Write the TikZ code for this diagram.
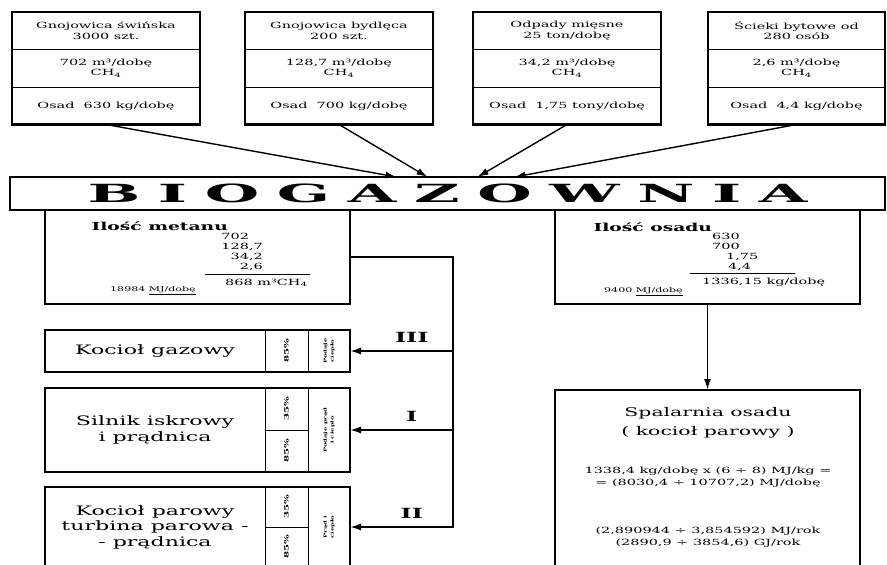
\documentclass[tikz,border=0pt]{standalone}
\usepackage{fontspec}
\setmainfont[FakeStretch=1.7]{DejaVu Serif}
\newfontfamily\widefont[FakeStretch=2.5]{DejaVu Serif}
\usetikzlibrary{arrows.meta, positioning, fit, calc}

\tikzset{
  cell/.style={draw, line width=0.9pt, outer sep=0pt, minimum width=188pt, minimum height=37.5pt, inner sep=1pt, align=center, font=\fontsize{8.5}{10.5}\selectfont},
  frame/.style={draw, line width=2.2pt, inner sep=0pt},
  box/.style={draw, line width=1.7pt, outer sep=0pt, inner sep=0pt},
  unit/.style={draw, line width=0.8pt, outer sep=0pt, inner sep=1pt, align=center, minimum width=220pt, font=\fontsize{13}{15.5}\selectfont},
  pct/.style={draw, line width=0.8pt, outer sep=0pt, inner sep=0pt, minimum width=43pt, font=\fontsize{6}{6}\selectfont\bfseries},
  note/.style={draw, line width=0.8pt, outer sep=0pt, inner sep=0pt, minimum width=42pt, font=\fontsize{4}{4.5}\selectfont\bfseries},
  feed/.style={-{Latex[length=11pt, width=7pt]}, line width=1.4pt},
  branch/.style={-{Latex[length=11pt, width=7pt]}, line width=1.8pt},
  roman/.style={font=\fontsize{14}{14}\selectfont\bfseries},
  head/.style={font=\fontsize{11}{12}\selectfont\bfseries},
  sum/.style={font=\fontsize{8.5}{10}\selectfont, inner sep=0pt},
  tiny/.style={font=\fontsize{6.5}{7}\selectfont, inner sep=0pt},
  calcs/.style={font=\fontsize{8.5}{12}\selectfont, align=center},
}

\begin{document}
\begin{tikzpicture}[x=1pt, y=-1pt]
\useasboundingbox (0,0) rectangle (887,565);

\node[cell] (sw1) at (106,30.75) {Gnojowica świńska\\3000 szt.};
\node[cell, below=0pt of sw1] (sw2) {702 m³/dobę\\CH\textsubscript{4}};
\node[cell, below=0pt of sw2] (sw3) {Osad~ 630 kg/dobę};
\node[frame, fit=(sw1)(sw3)] (swinie) {};

\node[cell] (by1) at (339,30.75) {Gnojowica bydlęca\\200 szt.};
\node[cell, below=0pt of by1] (by2) {128,7 m³/dobę\\CH\textsubscript{4}};
\node[cell, below=0pt of by2] (by3) {Osad~ 700 kg/dobę};
\node[frame, fit=(by1)(by3)] (bydlo) {};

\node[cell] (od1) at (567,30.75) {Odpady mięsne\\25 ton/dobę};
\node[cell, below=0pt of od1] (od2) {34,2 m³/dobę\\CH\textsubscript{4}};
\node[cell, below=0pt of od2] (od3) {Osad~ 1,75 tony/dobę};
\node[frame, fit=(od1)(od3)] (odpady) {};

\node[cell, minimum width=177pt] (sc1) at (796.5,30.75) {Ścieki bytowe od\\280 osób};
\node[cell, minimum width=177pt, below=0pt of sc1] (sc2) {2,6 m³/dobę\\CH\textsubscript{4}};
\node[cell, minimum width=177pt, below=0pt of sc2] (sc3) {Osad~ 4,4 kg/dobę};
\node[frame, fit=(sc1)(sc3)] (scieki) {};

\node[box, line width=1.8pt, minimum width=875pt, minimum height=33pt] (bio) at (447.5,193.5)
  {\widefont\fontsize{25}{25}\selectfont\bfseries\makebox[720pt][s]{B I O G A Z O W N I A}};

\draw[feed] (sw3.south) -- ($(bio.north)+(-51,0)$);
\draw[feed] (by3.south) -- ($(bio.north)+(-20,0)$);
\draw[feed] (od3.south) -- ($(bio.north)+(30,0)$);
\draw[feed] (sc3.south) -- ($(bio.north)+(67,0)$);

\node[box, minimum width=305pt, minimum height=94pt, anchor=north west] (metan) at (45,210) {};
\node[head, anchor=west] (metanT) at (88,226) {Ilość metanu};
\node[sum, anchor=north east, align=right] (metanL) at (263,233) {702\phantom{,7}\\128,7\\34,2\\2,6};
\draw[line width=0.8pt] (205,274) -- (310,274);
\node[sum, anchor=west] (metanS) at (225,283) {868 m³CH\textsubscript{4}};
\node[tiny, anchor=west] (metanE) at (110,291) {18984 \underline{MJ/dobę}};

\node[box, minimum width=305pt, minimum height=94pt, anchor=north west] (osad) at (555,210) {};
\node[head, anchor=west] (osadT) at (590,227) {Ilość osadu};
\node[sum, anchor=north west, align=left] (osadL) at (712,233) {630\\700\\\hspace{14pt}1,75\\\hspace{16pt}4,4};
\draw[line width=0.8pt] (690,273) -- (795,273);
\node[sum, anchor=west] (osadS) at (702,282) {1336,15 kg/dobę};
\node[tiny, anchor=west] (osadE) at (604,292) {9400 \underline{MJ/dobę}};

\node[unit, minimum height=42pt, anchor=north west] (kgT) at (45,330) {Kocioł gazowy};
\node[pct, minimum height=42pt, right=0pt of kgT] (kgP) {\rotatebox{90}{85\%}};
\node[note, minimum height=42pt, right=0pt of kgP] (kgN) {\rotatebox{90}{\shortstack{Podaje\\ciepło}}};
\node[box, fit=(kgT)(kgN)] (kg) {};

\node[unit, minimum height=84pt, anchor=north west] (siT) at (45,388) {Silnik iskrowy\\i prądnica};
\node[pct, minimum height=42pt, anchor=north west] (siP1) at (siT.north east) {\rotatebox{90}{35\%}};
\node[pct, minimum height=42pt, below=0pt of siP1] (siP2) {\rotatebox{90}{85\%}};
\node[note, minimum height=84pt, anchor=north west] (siN) at (siP1.north east) {\rotatebox{90}{\shortstack{Podaje prąd\\i ciepło}}};
\node[box, fit=(siT)(siN)] (si) {};

\node[unit, minimum height=80pt, anchor=north west] (kpT) at (45,487) {Kocioł parowy\\turbina parowa -\\- prądnica};
\node[pct, minimum height=40pt, anchor=north west] (kpP1) at (kpT.north east) {\rotatebox{90}{35\%}};
\node[pct, minimum height=40pt, below=0pt of kpP1] (kpP2) {\rotatebox{90}{85\%}};
\node[note, minimum height=80pt, anchor=north west] (kpN) at (kpP1.north east) {\rotatebox{90}{\shortstack{Prąd i\\ciepło}}};
\node[box, fit=(kpT)(kpN)] (kp) {};

\coordinate (bus) at (453,257);
\draw[branch] (metan.east) -- (bus) |- node[roman, above=4pt, pos=0.7] {II} (kp.east);
\draw[branch] (bus |- kg.east) -- node[roman, above=4pt, pos=0.4] {III} (kg.east);
\draw[branch] (bus |- si.east) -- node[roman, above=4pt, pos=0.4] {I} (si.east);

\node[box, minimum width=305pt, minimum height=180pt, anchor=north west] (spal) at (555,390) {};
\node[font=\fontsize{12}{19}\selectfont, align=center] (spalT) at (708,423) {Spalarnia osadu\\( kocioł parowy )};
\node[calcs] (spalE) at (708,477) {1338,4 kg/dobę x (6 ÷ 8) MJ/kg =\\= (8030,4 ÷ 10707,2) MJ/dobę};
\node[calcs] (spalR) at (708,537) {(2,890944 ÷ 3,854592) MJ/rok\\(2890,9 ÷ 3854,6) GJ/rok};

\draw[branch] (osad.south) -- (spal.north);
\end{tikzpicture}
\end{document}
